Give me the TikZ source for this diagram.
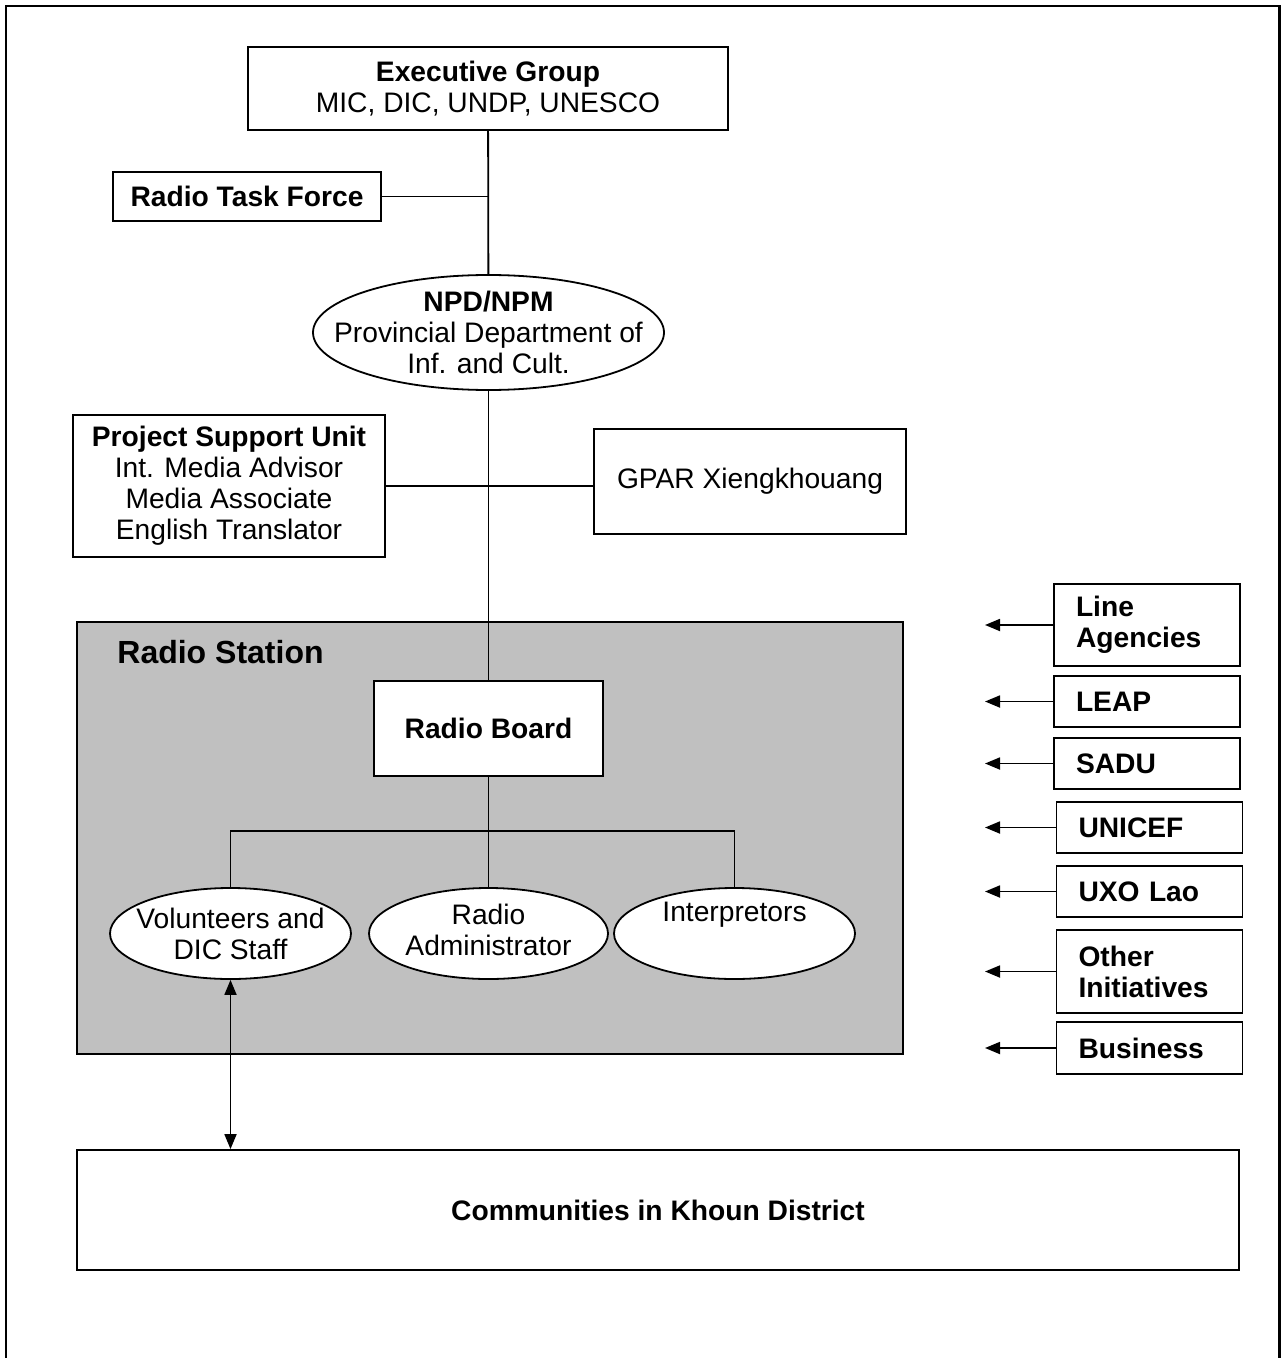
\documentclass[tikz,border=0pt]{standalone}
\usepackage{fontspec}
\setmainfont{Liberation Sans}
\usetikzlibrary{shapes.geometric, arrows.meta}

\definecolor{stationgrey}{HTML}{C0C0C0}

\begin{document}
\begin{tikzpicture}[x=0.5pt, y=-0.5pt,
        font=\fontsize{14.1}{15.5}\selectfont,
        box/.style = {draw=black, line width=0.9pt, fill=white, inner sep=0pt, align=center},
        oval/.style = {draw=black, line width=0.9pt, fill=white, ellipse, inner sep=0pt},
        ovaltext/.style = {inner sep=0pt, align=center},
        partner/.style = {box, minimum width=93pt, text width=71pt, align=left, font=\fontsize{14.1}{15.5}\selectfont\bfseries},
        link/.style = {line width=0.9pt},
        tip/.style = {line width=0.9pt, -{Triangle[length=7.5pt, width=6pt]}}]
        \useasboundingbox (0,0) rectangle (1281,1358);
        % outer frame
        \draw[line width=1.1pt] (6,1400) -- (6,6) -- (1279.5,6) -- (1279.5,1400);

        % top of the chart
        \node[box, minimum width=240pt, minimum height=41.5pt] (exec) at (488,88.5) {\textbf{Executive Group}\\MIC, DIC, UNDP, UNESCO};
        \node[box, minimum width=134pt, minimum height=24.5pt] (rtf) at (247,196.5) {\textbf{Radio Task Force}};
        \node[oval, minimum width=175.5pt, minimum height=57.5pt] (npd) at (488.5,332.5) {};
        \node[ovaltext] (npd-txt) at (npd) {\textbf{NPD/NPM}\\Provincial Department of\\Inf. and Cult.};
        \node[box, minimum width=156pt, minimum height=71pt] (psu) at (229,486) {\textbf{Project Support Unit}\\Int. Media Advisor\\Media Associate\\English Translator};
        \node[box, minimum width=156pt, minimum height=52.5pt] (gpar) at (750,481.5) {GPAR Xiengkhouang};

        % radio station
        \node[draw=black, line width=0.9pt, fill=stationgrey, minimum width=413pt, minimum height=216pt, inner sep=0pt] (station) at (490,838) {};
        \node[font=\fontsize{16}{18}\selectfont\bfseries, anchor=west, inner sep=0pt] (stationlbl) at (117,652) {Radio Station};
        \node[box, minimum width=114.5pt, minimum height=47.5pt] (board) at (488.5,728.5) {\textbf{Radio Board}};
        \coordinate (split) at (488.5,831);
        \node[oval, minimum width=120.5pt, minimum height=45.5pt] (vol) at (230.5,933.5) {};
        \node[ovaltext] (vol-txt) at (vol) {Volunteers and\\DIC Staff};
        \node[oval, minimum width=119.5pt, minimum height=45.5pt] (adm) at (488.5,933.5) {};
        \node[ovaltext] (adm-txt) at (488.5,930) {Radio\\Administrator};
        \node[oval, minimum width=120.5pt, minimum height=45.5pt] (intp) at (734.5,933.5) {};
        \node[ovaltext] (intp-txt) at (734.5,915) {Interpretors};

        \node[box, minimum width=581pt, minimum height=60pt] (comm) at (658,1210) {\textbf{Communities in Khoun District}};

        % partners on the right
        \node[partner, minimum height=41pt] (agencies) at (1147,625) {Line\\Agencies};
        \node[partner, minimum height=25.5pt] (leap) at (1147,701.5) {LEAP};
        \node[partner, minimum height=25.5pt] (sadu) at (1147,763.5) {SADU};
        \node[partner, minimum height=25.5pt] (unicef) at (1149.5,827.5) {UNICEF};
        \node[partner, minimum height=25.5pt] (uxo) at (1149.5,891.5) {UXO Lao};
        \node[partner, minimum height=41.5pt] (other) at (1149.5,971.5) {Other\\Initiatives};
        \node[partner, minimum height=26pt] (business) at (1149.5,1048) {Business};
        \coordinate (tipline) at (985,0);

        % connectors
        \draw[link] (exec) -- (npd);
        \draw[link] (rtf.east) -- (rtf.east -| exec.south);
        \draw[link] (npd) -- (board);
        \draw[link] (psu.east) -- (psu.east -| gpar.west);
        \draw[link] (board) -- (split);
        \draw[link] (vol.north) |- (split) -| (intp.north);
        \draw[link] (split) -- (adm);
        \draw[line width=0.9pt, {Triangle[length=7.5pt, width=6pt]}-{Triangle[length=7.5pt, width=6pt]}] (vol.south) -- (vol.south |- comm.north);

        \draw[tip] (agencies.west) -- (agencies.west -| tipline);
        \draw[tip] (leap.west) -- (leap.west -| tipline);
        \draw[tip] (sadu.west) -- (sadu.west -| tipline);
        \draw[tip] (unicef.west) -- (unicef.west -| tipline);
        \draw[tip] (uxo.west) -- (uxo.west -| tipline);
        \draw[tip] (other.west) -- (other.west -| tipline);
        \draw[tip] (business.west) -- (business.west -| tipline);
    \end{tikzpicture}
\end{document}
